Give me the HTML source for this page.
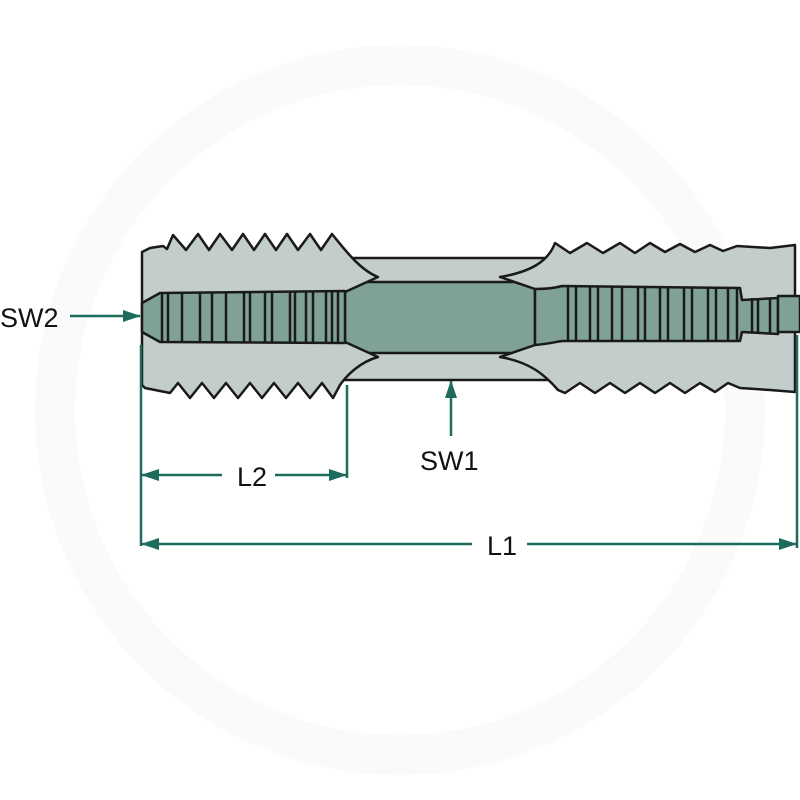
<!DOCTYPE html>
<html><head><meta charset="utf-8"><style>
html,body{margin:0;padding:0;background:#fff;}
svg{display:block;}
text{font-family:"Liberation Sans",sans-serif;font-size:27px;fill:#111;}
</style></head><body>
<svg width="800" height="800" viewBox="0 0 800 800" xmlns="http://www.w3.org/2000/svg">
<defs>
<marker id="ah" markerWidth="18" markerHeight="12" refX="17" refY="6" orient="auto" markerUnits="userSpaceOnUse" viewBox="0 0 18 12">
<path d="M0,0 L18,6 L0,12 Z" fill="#1d6b5c"/></marker>
</defs>
<circle cx="400" cy="410" r="345" fill="none" stroke="#fafafa" stroke-width="40"/>
<g stroke="#1a1a1a" stroke-width="2.5" stroke-linejoin="round">
<rect x="340" y="258" width="225" height="122" fill="#c3cdcb"/>
<rect x="340" y="282" width="225" height="71" fill="#7fa198"/>
<path fill="#c3cdcb" d="M142,252 L150,248 L163,246 L167,249 L173,235 L186,250 L198,234 L209,250 L220,234 L232,250 L243,234 L254,250 L265,234 L276,250 L287,234 L298,250 L310,234 L321,250 L332,234 C345,250 360,270 378,277 L345,292 L345,342 L378,357 C360,362 347,375 340,385 L333,398 L322,383 L310,398 L298,383 L286,398 L274,383 L262,398 L250,383 L238,398 L226,383 L214,398 L202,383 L190,398 L178,383 L170,393 L155,390 L145,388 L142,385 Z"/>
<path fill="#7fa198" d="M142,303 L160,293 L345,291 L345,343 L160,342 L142,332 Z"/>
<path fill="none" d="M162,293 V342 M168,293 V342 M182,292 V342 M200,292 V342 M212,292 V342 M226,292 V342 M244,292 V342 M250,292 V342 M265,292 V342 M272,292 V342 M290,292 V342 M295,292 V342 M306,292 V342 M313,292 V342 M326,292 V342 M332,292 V342 M338,292 V342"/>
<path fill="#c3cdcb" d="M555,243 L570,253 L587,243 L603,253 L620,243 L635,253 L650,243 L665,252 L680,244 L695,252 L710,245 L723,251 L737,246 L770,248 L795,245 L795,392 L770,390 L740,388 L728,383 L715,392 L700,383 L685,393 L670,383 L655,393 L640,383 L625,393 L610,383 L595,393 L580,383 L565,393 L558,390 C545,375 530,362 500,357 L535,345 L535,289 L500,277 C530,272 548,262 555,243 Z"/>
<path fill="#7fa198" d="M535,289 C548,289 555,288 562,286 L740,288 L742,300 L778,298 L778,334 L742,332 L740,341 L562,341 C555,342 548,344 535,345 Z"/>
<rect x="778" y="296" width="22" height="36" fill="#7fa198"/>
<path fill="none" d="M568,286 V341 M576,286 V341 M590,287 V341 M598,287 V341 M612,287 V341 M622,287 V341 M638,287 V341 M645,287 V341 M660,287 V341 M668,287 V341 M684,288 V341 M692,288 V341 M708,288 V341 M716,288 V341 M728,288 V341 M737,288 V341 M752,298 V333 M758,298 V333 M770,298 V333"/>
</g>
<g stroke="#1d6b5c" stroke-width="2.5" fill="none">
<line x1="141" y1="345" x2="141" y2="546"/>
<line x1="347" y1="385" x2="347" y2="478"/>
<line x1="797" y1="335" x2="797" y2="548"/>
<line x1="70" y1="316" x2="140" y2="316" marker-end="url(#ah)"/>
<line x1="222" y1="475" x2="142" y2="475" marker-end="url(#ah)"/>
<line x1="275" y1="475" x2="346" y2="475" marker-end="url(#ah)"/>
<line x1="472" y1="544" x2="142" y2="544" marker-end="url(#ah)"/>
<line x1="527" y1="544" x2="796" y2="544" marker-end="url(#ah)"/>
<line x1="451" y1="436" x2="451" y2="381" marker-end="url(#ah)"/>
</g>
<text x="0" y="327">SW2</text>
<text x="237" y="486">L2</text>
<text x="420" y="470">SW1</text>
<text x="487" y="555">L1</text>
</svg>
</body></html>
